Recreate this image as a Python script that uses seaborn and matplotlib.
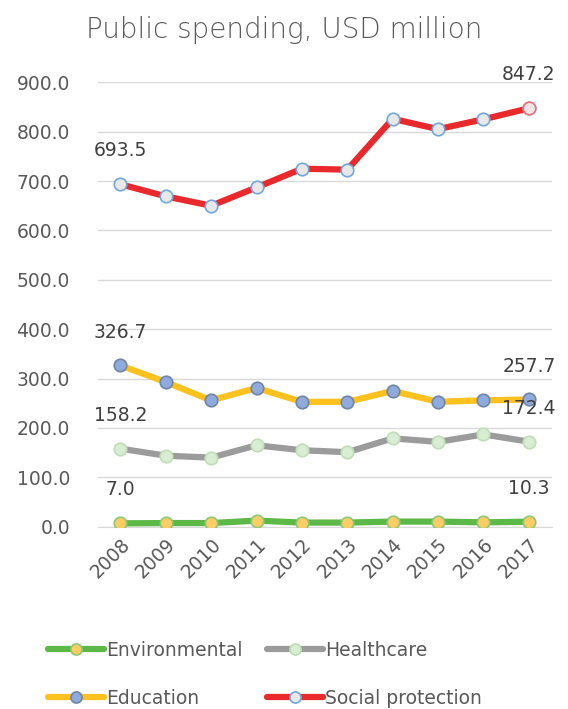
import matplotlib
matplotlib.use("Agg")
import matplotlib.pyplot as plt
import numpy as np
import pandas as pd
import seaborn as sns
from matplotlib.lines import Line2D

# Data
years = ["2008", "2009", "2010", "2011", "2012", "2013", "2014", "2015", "2016", "2017"]
environmental = [7.0, 7.5, 7.5, 12.5, 8.5, 8.5, 10.5, 10.5, 9.0, 10.3]
healthcare = [158.2, 144, 140, 165, 155, 151, 179, 172, 187, 172.4]
education = [326.7, 293, 256, 281, 253, 253, 275, 253, 256, 257.7]
social_protection = [693.5, 669, 650, 687, 725, 723, 826, 805, 825, 847.2]
yticks = [0, 100, 200, 300, 400, 500, 600, 700, 800, 900]

sns.set_style("white")
plt.rcParams["font.family"] = ["DejaVu Sans"]
text_col = "#595959"

df = pd.DataFrame({
    "year": years,
    "Environmental": environmental,
    "Healthcare": healthcare,
    "Education": education,
    "Social protection": social_protection,
})
df["pos"] = np.arange(len(years))

# (line colour, marker fill, marker edge)
styles = {
    "Environmental": ("#5CB847", "#FFCC66", "#8DC873"),
    "Healthcare": ("#9B9B9B", "#D8EDD2", "#BFDDB6"),
    "Education": ("#FFC11E", "#8FAADC", "#6F86A8"),
    "Social protection": ("#E9292C", "#E8E8E8", "#6FA8DC"),
}

fig = plt.figure(figsize=(5.68, 7.09), dpi=100)
ax = fig.add_axes([0.172, 0.257, 0.799, 0.627])

handles = []
for name, (lc, mf, me) in styles.items():
    sns.lineplot(data=df, x="pos", y=name, ax=ax, color=lc, linewidth=4.5,
                 marker="o", markersize=9, markerfacecolor=mf,
                 markeredgecolor=me, markeredgewidth=1.2, zorder=3)
    handles.append(Line2D([0], [0], color=lc, linewidth=4.5, marker="o",
                          markersize=8, markerfacecolor=mf,
                          markeredgecolor=me, markeredgewidth=1.2, label=name))

# last social protection marker has a reddish edge
ax.plot(df["pos"].iloc[-1], social_protection[-1], marker="o", markersize=9,
        markerfacecolor="#EDE6E6", markeredgecolor="#F0707A",
        markeredgewidth=1.2, zorder=4)

# data labels on first and last points
for vals in [environmental, healthcare, education, social_protection]:
    for i in [0, len(years) - 1]:
        ax.annotate(f"{vals[i]:.1f}", (i, vals[i]), xytext=(0, 24),
                    textcoords="offset points", ha="center", va="center",
                    fontsize=13.5, color="#404040", annotation_clip=False)

ax.set_xlim(-0.5, len(years) - 0.5)
ax.set_ylim(0, 900)
ax.set_yticks(yticks)
ax.set_yticklabels([f"{v:.1f}" for v in yticks])
ax.set_xticks(df["pos"])
ax.set_xticklabels(years, rotation=45, ha="right", rotation_mode="anchor")
ax.tick_params(axis="both", length=0, labelsize=13.5, colors=text_col)
ax.tick_params(axis="y", pad=20)
ax.tick_params(axis="x", pad=6)
ax.grid(axis="y", color="#D9D9D9", linewidth=1)
for s in ["top", "right", "left"]:
    ax.spines[s].set_visible(False)
ax.spines["bottom"].set_color("#D9D9D9")
ax.set_xlabel("")
ax.set_ylabel("")

fig.suptitle("Public spending, USD million", y=0.978, fontsize=20,
             color=text_col, fontweight=200)

order = [handles[0], handles[2], handles[1], handles[3]]
fig.legend(handles=order, loc="lower left", bbox_to_anchor=(0.055, -0.022),
           ncol=2, frameon=False, fontsize=13.5, labelcolor=text_col,
           handlelength=3.0, handletextpad=0.1, columnspacing=1.3,
           labelspacing=1.55)

fig.savefig("out.png", dpi=100)
